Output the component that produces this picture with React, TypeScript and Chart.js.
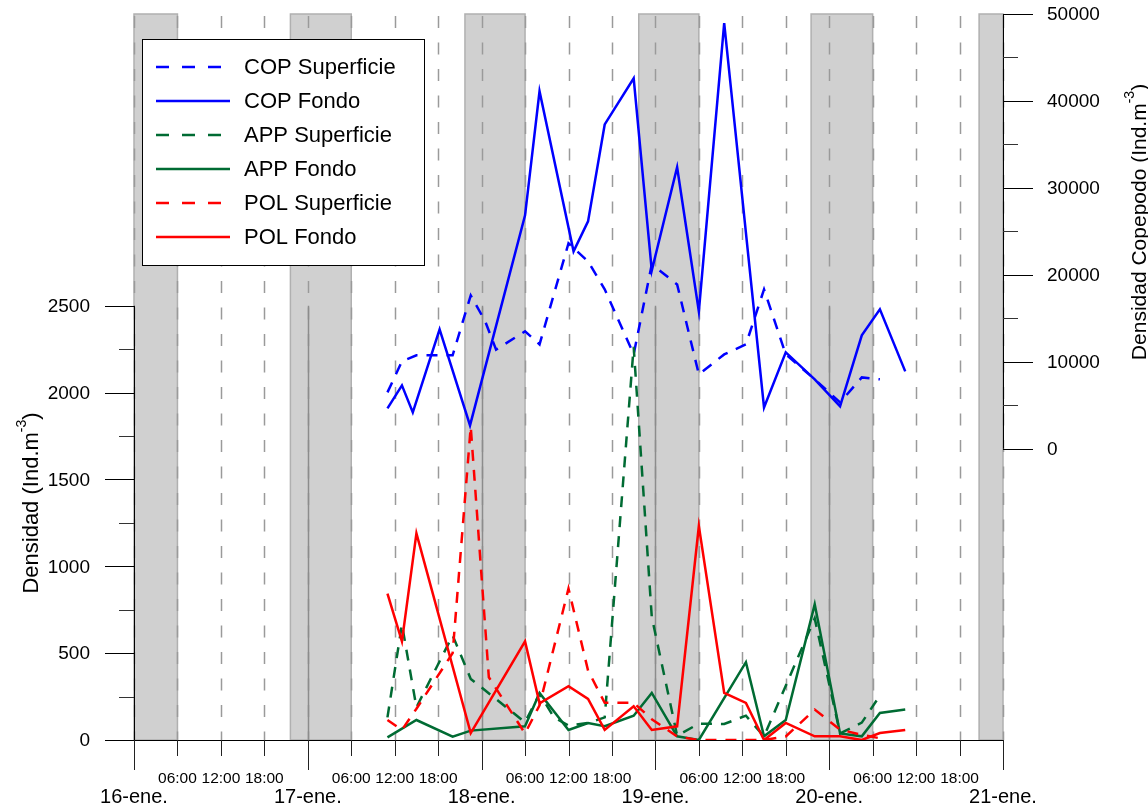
import React, { useEffect, useRef } from "react";
import { Chart, registerables } from "chart.js";

Chart.register(...registerables);

// Sampling times are hours counted from 16-ene 00:00.
const copSupHoras = [35, 37, 39, 44, 46.5, 48.5, 50, 54, 56, 60, 62.7, 65, 69, 71.5, 75, 78, 81.5, 84.5, 87, 90, 94, 97.5, 100.5, 103];
const copSupValores = [6480, 10050, 10740, 10740, 17640, 14650, 11400, 13500, 12000, 23630, 21550, 18330, 10850, 21210, 18900, 8550, 10850, 12000, 18330, 10850, 7980, 5330, 8200, 7980];

const copFondoHoras = [35, 37, 38.5, 42.2, 46.4, 54, 56, 60.7, 62.7, 65, 69, 71.5, 75, 78, 81.5, 87, 90, 94, 97.5, 100.5, 103, 106.5];
const copFondoValores = [4640, 7285, 4180, 13730, 2680, 26850, 41110, 22700, 26150, 37300, 42600, 20500, 32370, 15800, 48940, 4750, 11090, 7980, 4870, 13040, 16030, 8900];

const appSupHoras = [35, 37, 39, 44, 46.5, 54, 56, 58, 60, 62.7, 65, 69, 71.5, 75, 78, 81.5, 84.5, 87, 94, 97.5, 100.5, 103];
const appSupValores = [130, 666, 188, 602, 352, 102, 266, 130, 83, 98, 130, 2264, 708, 25, 94, 92, 140, 21, 700, 38, 100, 256];

const appFondoHoras = [35, 39, 44, 46.5, 54, 56, 60, 62.7, 65, 69, 71.5, 75, 78, 84.5, 87, 90, 94, 97.5, 100.5, 103, 106.5];
const appFondoValores = [15, 115, 19, 54, 79, 271, 58, 98, 79, 140, 271, 21, 0, 448, 21, 115, 781, 38, 21, 156, 175];

const polSupHoras = [35, 37, 39, 44, 46.5, 49, 54, 56, 60, 62.7, 65, 69, 71.5, 75, 78, 81.5, 84.5, 87, 90, 94, 97.5, 100.5, 103];
const polSupValores = [115, 58, 180, 500, 1804, 361, 38, 200, 872, 400, 214, 214, 120, 20, 0, 0, 0, 0, 20, 175, 60, 30, 10];

const polFondoHoras = [35, 37, 39, 46.5, 54, 56, 60, 62.7, 65, 69, 71.5, 75, 78, 81.5, 84.5, 87, 90, 94, 97.5, 100.5, 103, 106.5];
const polFondoValores = [843, 568, 1190, 40, 568, 211, 310, 237, 58, 194, 58, 79, 1232, 271, 214, 0, 98, 21, 21, 0, 40, 58];

// Night periods (start hour, end hour)
const noches = [[0, 6], [21.6, 30], [45.7, 54], [69.7, 78], [93.5, 102], [116.7, 120]];

const dias = ["16-ene.", "17-ene.", "18-ene.", "19-ene.", "20-ene.", "21-ene."];
const horasDia = ["06:00", "12:00", "18:00"];
const densidadTicks = [0, 500, 1000, 1500, 2000, 2500];
const copepodoTicks = [0, 10000, 20000, 30000, 40000, 50000];

const AZUL = "#0000ff";
const VERDE = "#006b33";
const ROJO = "#ff0000";
const FUENTE = "'Liberation Sans', Arial, sans-serif";

const serie = (horas: number[], valores: number[]) => horas.map((h, i) => ({ x: h, y: valores[i] }));

const leyenda = [
  { texto: "COP Superficie", color: AZUL, dash: [13, 13] },
  { texto: "COP Fondo", color: AZUL, dash: [] },
  { texto: "APP Superficie", color: VERDE, dash: [13, 13] },
  { texto: "APP Fondo", color: VERDE, dash: [] },
  { texto: "POL Superficie", color: ROJO, dash: [13, 13] },
  { texto: "POL Fondo", color: ROJO, dash: [] },
];

const fondoPlugin = {
  id: "fondoNoches",
  beforeDatasetsDraw(chart: any) {
    const { ctx, chartArea: a } = chart;
    const x = chart.scales.x;
    const y = chart.scales.y;
    ctx.save();
    for (const [s, e] of noches) {
      const x0 = x.getPixelForValue(s);
      const x1 = x.getPixelForValue(e);
      ctx.fillStyle = "#d0d0d0";
      ctx.fillRect(x0, a.top, x1 - x0, a.bottom - a.top);
      ctx.strokeStyle = "#b0b0b0";
      ctx.lineWidth = 1.5;
      ctx.strokeRect(x0, a.top, x1 - x0, a.bottom - a.top);
    }
    // Every 6 h a dashed guide
    ctx.strokeStyle = "#9a9a9a";
    ctx.lineWidth = 1.5;
    ctx.setLineDash([12, 14.5]);
    for (let h = 0; h <= 120; h += 6) {
      const px = Math.round(x.getPixelForValue(h)) + 0.5;
      ctx.beginPath();
      ctx.moveTo(px, a.top + 2);
      ctx.lineTo(px, a.bottom);
      ctx.stroke();
    }
    // Day boundaries drawn solid across the density axis range
    ctx.setLineDash([]);
    ctx.strokeStyle = "#8c8c8c";
    const yTop = y.getPixelForValue(2500);
    for (let h = 24; h < 120; h += 24) {
      const px = Math.round(x.getPixelForValue(h)) + 0.5;
      ctx.beginPath();
      ctx.moveTo(px, yTop);
      ctx.lineTo(px, a.bottom);
      ctx.stroke();
    }
    ctx.restore();
  },
};

const ejesPlugin = {
  id: "ejes",
  afterDatasetsDraw(chart: any) {
    const { ctx, chartArea: a } = chart;
    const x = chart.scales.x;
    const y = chart.scales.y;
    const y2 = chart.scales.y2;
    ctx.save();
    ctx.setLineDash([]);
    ctx.strokeStyle = "#000";
    ctx.fillStyle = "#000";
    ctx.lineWidth = 1;

    // Left axis
    const yTop = y.getPixelForValue(2500);
    ctx.beginPath();
    ctx.moveTo(a.left + 0.5, a.bottom);
    ctx.lineTo(a.left + 0.5, yTop);
    ctx.stroke();
    for (let v = 0; v <= 2500; v += 250) {
      const py = Math.round(y.getPixelForValue(v)) + 0.5;
      const len = v % 500 === 0 ? 29 : 15;
      ctx.strokeStyle = v % 500 === 0 ? "#000" : "#333";
      ctx.beginPath();
      ctx.moveTo(a.left - len, py);
      ctx.lineTo(a.left, py);
      ctx.stroke();
    }
    ctx.font = `19px ${FUENTE}`;
    ctx.textAlign = "right";
    ctx.textBaseline = "middle";
    for (const v of densidadTicks) {
      ctx.fillText(String(v), a.left - 44, y.getPixelForValue(v) + 1);
    }

    // Right axis
    const r = a.right;
    const r0 = y2.getPixelForValue(0);
    const r1 = y2.getPixelForValue(50000);
    ctx.strokeStyle = "#000";
    ctx.beginPath();
    ctx.moveTo(r + 0.5, r0);
    ctx.lineTo(r + 0.5, r1);
    ctx.stroke();
    for (let v = 0; v <= 50000; v += 5000) {
      const py = Math.round(y2.getPixelForValue(v)) + 0.5;
      const len = v % 10000 === 0 ? 30 : 15;
      ctx.strokeStyle = v % 10000 === 0 ? "#000" : "#333";
      ctx.beginPath();
      ctx.moveTo(r, py);
      ctx.lineTo(r + len, py);
      ctx.stroke();
    }
    ctx.textAlign = "left";
    for (const v of copepodoTicks) {
      ctx.fillText(String(v), r + 44, y2.getPixelForValue(v) + 1);
    }

    // Bottom axis
    ctx.strokeStyle = "#000";
    ctx.beginPath();
    ctx.moveTo(a.left, a.bottom + 0.5);
    ctx.lineTo(a.right + 1, a.bottom + 0.5);
    ctx.stroke();
    for (let h = 0; h <= 120; h += 6) {
      const px = Math.round(x.getPixelForValue(h)) + 0.5;
      const len = h % 24 === 0 ? 30 : 16;
      ctx.strokeStyle = "#222";
      ctx.beginPath();
      ctx.moveTo(px, a.bottom);
      ctx.lineTo(px, a.bottom + len);
      ctx.stroke();
    }
    ctx.textAlign = "center";
    ctx.textBaseline = "middle";
    ctx.font = `15.5px ${FUENTE}`;
    for (let d = 0; d < 5; d++) {
      horasDia.forEach((lab, k) => {
        ctx.fillText(lab, x.getPixelForValue(d * 24 + (k + 1) * 6), a.bottom + 39);
      });
    }
    ctx.font = `20px ${FUENTE}`;
    dias.forEach((lab, d) => {
      ctx.fillText(lab, x.getPixelForValue(d * 24), a.bottom + 57);
    });

    // Axis titles, drawn rotated with a superscript exponent
    const titulo = (bx: number, cy: number, base: string, size: number) => {
      ctx.save();
      ctx.translate(bx, cy);
      ctx.rotate(-Math.PI / 2);
      const sup = Math.round(size * 0.65);
      ctx.font = `${size}px ${FUENTE}`;
      const w1 = ctx.measureText(base).width;
      ctx.font = `${sup}px ${FUENTE}`;
      const w2 = ctx.measureText("-3").width;
      ctx.font = `${size}px ${FUENTE}`;
      const w3 = ctx.measureText(")").width;
      let sx = -(w1 + w2 + w3) / 2;
      ctx.textAlign = "left";
      ctx.textBaseline = "alphabetic";
      ctx.fillText(base, sx, 0);
      sx += w1;
      ctx.font = `${sup}px ${FUENTE}`;
      ctx.fillText("-3", sx, -size * 0.55);
      sx += w2;
      ctx.font = `${size}px ${FUENTE}`;
      ctx.fillText(")", sx, 0);
      ctx.restore();
    };
    titulo(38, 503, "Densidad (Ind.m", 22);
    titulo(1146, 222, "Densidad Copepodo (Ind.m", 21);

    // Legend
    const lx = 142.5, ly = 39.5, lw = 282, lh = 226;
    ctx.fillStyle = "#fff";
    ctx.fillRect(lx, ly, lw, lh);
    ctx.strokeStyle = "#000";
    ctx.lineWidth = 1;
    ctx.strokeRect(lx, ly, lw, lh);
    ctx.font = `22px ${FUENTE}`;
    ctx.textAlign = "left";
    ctx.textBaseline = "middle";
    leyenda.forEach((it, i) => {
      const cy = 67 + i * 34;
      ctx.strokeStyle = it.color;
      ctx.lineWidth = 2.5;
      ctx.setLineDash(it.dash);
      ctx.beginPath();
      ctx.moveTo(156, cy);
      ctx.lineTo(230, cy);
      ctx.stroke();
      ctx.setLineDash([]);
      ctx.fillStyle = "#000";
      ctx.fillText(it.texto, 244, cy + 1);
    });
    ctx.restore();
  },
};

export default function App() {
  const ref = useRef<HTMLCanvasElement | null>(null);

  useEffect(() => {
    document.body.style.margin = "0";
    const canvas = ref.current;
    if (!canvas) return;
    const linea = (label: string, data: any[], color: string, dashed: boolean, eje: string) => ({
      label,
      data,
      borderColor: color,
      backgroundColor: color,
      borderWidth: 2.5,
      borderDash: dashed ? [11, 9] : [],
      pointRadius: 0,
      tension: 0,
      fill: false,
      yAxisID: eje,
    });
    const chart = new Chart(canvas, {
      type: "line",
      data: {
        datasets: [
          linea("POL Fondo", serie(polFondoHoras, polFondoValores), ROJO, false, "y"),
          linea("POL Superficie", serie(polSupHoras, polSupValores), ROJO, true, "y"),
          linea("APP Fondo", serie(appFondoHoras, appFondoValores), VERDE, false, "y"),
          linea("APP Superficie", serie(appSupHoras, appSupValores), VERDE, true, "y"),
          linea("COP Fondo", serie(copFondoHoras, copFondoValores), AZUL, false, "y2"),
          linea("COP Superficie", serie(copSupHoras, copSupValores), AZUL, true, "y2"),
        ],
      },
      options: {
        responsive: false,
        animation: false,
        layout: { padding: { left: 134, right: 145, top: 14, bottom: 70 } },
        scales: {
          x: { type: "linear", min: 0, max: 120, display: false },
          y: { type: "linear", min: 0, max: 4180, display: false },
          y2: { type: "linear", min: -33500, max: 50000, display: false },
        },
        plugins: { legend: { display: false }, tooltip: { enabled: false } },
      },
      plugins: [fondoPlugin, ejesPlugin],
    });
    return () => chart.destroy();
  }, []);

  return (
    <div style={{ position: "absolute", left: 0, top: 0, width: 1148, height: 810, background: "#fff" }}>
      <canvas ref={ref} width={1148} height={810} style={{ display: "block" }} />
    </div>
  );
}
